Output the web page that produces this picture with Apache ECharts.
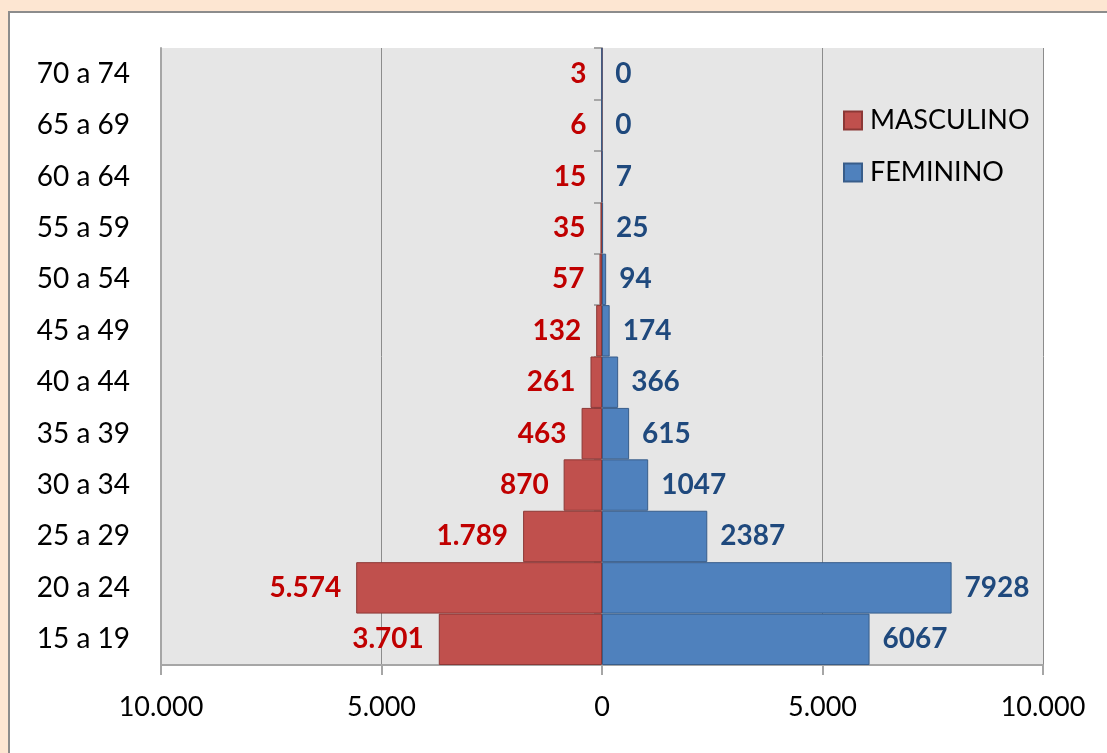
<!DOCTYPE html>
<html>
<head>
<meta charset="utf-8">
<script src="https://cdn.jsdelivr.net/npm/echarts@6/dist/echarts.min.js"></script>
<style>
  html, body { margin: 0; padding: 0; background: #fde6d2; }
  #chart { width: 1107px; height: 753px; }
</style>
</head>
<body>
<div id="chart"></div>
<script>
// age groups, bottom to top
const ageGroups = ['15 a 19', '20 a 24', '25 a 29', '30 a 34', '35 a 39', '40 a 44',
  '45 a 49', '50 a 54', '55 a 59', '60 a 64', '65 a 69', '70 a 74'];
const masculino = [3701, 5574, 1789, 870, 463, 261, 132, 57, 35, 15, 6, 3];
const feminino = [6067, 7928, 2387, 1047, 615, 366, 174, 94, 25, 7, 0, 0];

const font = 'Lato, "Open Sans", sans-serif';
const dotThousands = v => String(v).replace(/\B(?=(\d{3})+(?!\d))/g, '.');

const chart = echarts.init(document.getElementById('chart'));
const option = {
  backgroundColor: '#fde6d2',
  animation: false,
  graphic: [{
    type: 'rect',
    z: -10,
    shape: { x: 9, y: 12, width: 1200, height: 800 },
    style: { fill: '#ffffff', stroke: '#8c8c8c', lineWidth: 2 }
  }],
  legend: {
    orient: 'vertical',
    left: 838,
    top: 102,
    itemWidth: 18,
    itemHeight: 18,
    itemGap: 25,
    icon: 'rect',
    data: ['MASCULINO', 'FEMININO'],
    textStyle: { fontFamily: font, fontSize: 27, color: '#000', padding: [4, 0, 0, 3] }
  },
  grid: {
    left: 161, right: 64, top: 48, bottom: 88,
    show: true,
    backgroundColor: '#e6e6e6',
    borderWidth: 0
  },
  xAxis: {
    type: 'value',
    min: -10000, max: 10000, interval: 5000,
    axisLine: { show: true, lineStyle: { color: '#a6a6a6', width: 2 } },
    axisTick: { show: true, length: 10, lineStyle: { color: '#a6a6a6', width: 2 } },
    splitLine: { show: true, lineStyle: { color: '#8c8c8c', width: 1 } },
    axisLabel: {
      margin: 29,
      fontFamily: font, fontSize: 27, color: '#000',
      formatter: v => dotThousands(Math.abs(v))
    }
  },
  yAxis: [{
    type: 'category',
    data: ageGroups,
    axisLine: { show: true, onZero: true, lineStyle: { color: '#a6a6a6', width: 2 } },
    axisTick: { show: true, length: 8, lineStyle: { color: '#a6a6a6', width: 2 } },
    axisLabel: { show: false }
  }, {
    type: 'category',
    data: ageGroups,
    position: 'left',
    axisLine: { show: true, onZero: false, lineStyle: { color: '#a6a6a6', width: 2 } },
    axisTick: { show: false },
    axisLabel: { margin: 31, padding: [5, 0, 0, 0], fontFamily: font, fontSize: 28, color: '#000' }
  }],
  series: [{
    name: 'MASCULINO',
    type: 'bar',
    stack: 'p',
    barCategoryGap: 0,
    data: masculino.map(v => -v),
    itemStyle: { color: '#c0504d', borderColor: '#8c3836', borderWidth: 1 },
    label: {
      show: true, position: 'left', distance: 15, padding: [5, 0, 0, 0],
      fontFamily: font, fontSize: 28, fontWeight: 'bold', color: '#c00000',
      formatter: p => dotThousands(-p.value)
    }
  }, {
    name: 'FEMININO',
    type: 'bar',
    stack: 'p',
    barCategoryGap: 0,
    data: feminino,
    itemStyle: { color: '#4f81bd', borderColor: '#385d8a', borderWidth: 1 },
    label: {
      show: true, position: 'right', distance: 13, padding: [5, 0, 0, 0],
      fontFamily: font, fontSize: 28, fontWeight: 'bold', color: '#1f497d',
      formatter: p => String(p.value)
    }
  }]
};
chart.setOption(option);
</script>
</body>
</html>
